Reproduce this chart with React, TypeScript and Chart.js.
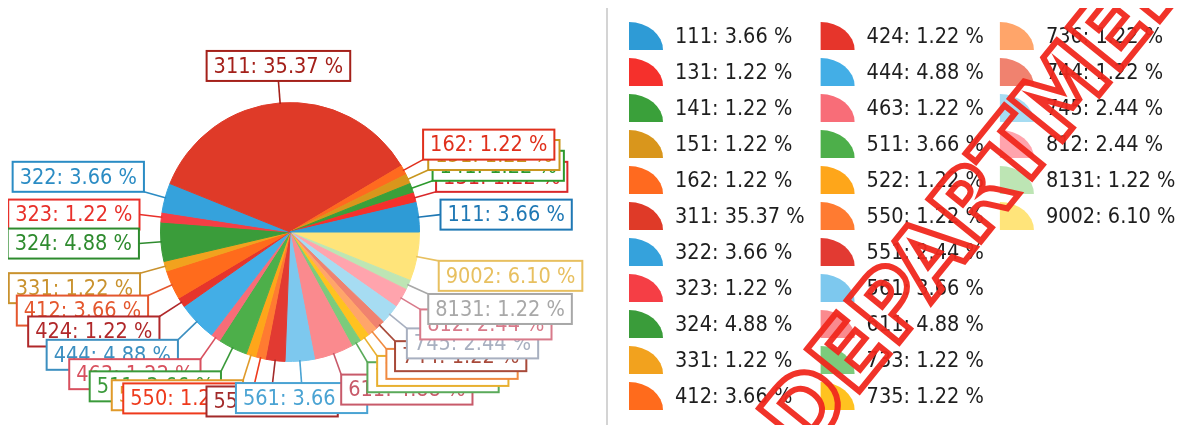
import React, { useEffect, useRef } from 'react';
import { Chart, registerables } from 'chart.js';

Chart.register(...registerables);

const categories = ['111', '131', '141', '151', '162', '311', '322', '323', '324', '331', '412', '424', '444', '463', '511', '522', '550', '551', '561', '611', '733', '735', '736', '744', '745', '812', '8131', '9002'];
const percentages = [3.66, 1.22, 1.22, 1.22, 1.22, 35.37, 3.66, 1.22, 4.88, 1.22, 3.66, 1.22, 4.88, 1.22, 3.66, 1.22, 1.22, 2.44, 3.66, 4.88, 1.22, 1.22, 1.22, 1.22, 2.44, 2.44, 1.22, 6.10];
const sliceColors = ['#2e9bd6', '#f5302c', '#3aa03a', '#d9961c', '#ff6a1f', '#df3a28', '#35a2dc', '#f53e45', '#3a9c3a', '#f2a21e', '#ff6b1c', '#e6352b', '#43aee6', '#f86d78', '#4daf4a', '#fea61a', '#ff7b31', '#e23a32', '#7dc8ee', '#fa8a8e', '#7ccb7c', '#ffc220', '#ffa56a', '#f0826f', '#a6dcf2', '#ffa4ad', '#bde5b4', '#ffe47a'];
const labelColors = ['#1f78b4', '#d9282a', '#2c9a2c', '#c8961e', '#e0301c', '#a4201a', '#2b8cc4', '#e8302a', '#2e8b2e', '#c9922e', '#e4572e', '#b0282a', '#3c8fc0', '#d8505e', '#3a9a3a', '#e09a2a', '#ee3a1c', '#a22a2a', '#4aa3d3', '#c85a6a', '#5aaa5a', '#e8b030', '#f08a40', '#a84a3a', '#a8b0c0', '#d87a8a', '#a8a8a8', '#e8c060'];
const stampText = 'DEPARTMENT';

const FONT = '"DejaVu Sans", sans-serif';
const SX = 0.88;

const labelText = (i: number) => `${categories[i]}: ${percentages[i].toFixed(2)} %`;

function drawText(ctx: CanvasRenderingContext2D, text: string, x: number, y: number, color: string) {
  ctx.save();
  ctx.translate(x, y);
  ctx.scale(SX, 1);
  ctx.fillStyle = color;
  ctx.fillText(text, 0, 0);
  ctx.restore();
}
const textW = (ctx: CanvasRenderingContext2D, t: string) => ctx.measureText(t).width * SX;

const outLabels = {
  id: 'outLabels',
  afterDatasetsDraw(chart: any) {
    const ctx: CanvasRenderingContext2D = chart.ctx;
    const meta = chart.getDatasetMeta(0);
    const n = categories.length;
    ctx.save();
    ctx.font = `22px ${FONT}`;
    ctx.textBaseline = 'middle';
    for (let i = 0; i < n; i++) {
      const arc = meta.data[n - 1 - i];
      const { x, y, startAngle, endAngle, outerRadius } = arc.getProps(['x', 'y', 'startAngle', 'endAngle', 'outerRadius'], true);
      const mid = (startAngle + endAngle) / 2;
      const c = Math.cos(mid);
      const s = Math.sin(mid);
      const R = outerRadius + 22 + (s > 0.15 && c < 0 ? 4 : 0);
      const ax = x + c * R;
      const ay = y + s * R;
      const text = labelText(i);
      const w = textW(ctx, text) + 14;
      const h = 30;
      const bx = c > 0.15 ? ax : c < -0.15 ? ax - w : ax - w / 2;
      const by = s > 0.15 ? ay : s < -0.15 ? ay - h : ay - h / 2;
      ctx.strokeStyle = labelColors[i];
      ctx.lineWidth = 1.6;
      ctx.beginPath();
      ctx.moveTo(x + c * (outerRadius - 1), y + s * (outerRadius - 1));
      ctx.lineTo(ax, ay);
      ctx.stroke();
      ctx.fillStyle = '#ffffff';
      ctx.fillRect(bx, by, w, h);
      ctx.lineWidth = 2;
      ctx.strokeRect(bx, by, w, h);
      drawText(ctx, text, bx + 7, by + h / 2 + 1, labelColors[i]);
    }
    ctx.restore();
  },
};

const legendPanel = {
  id: 'legendPanel',
  afterDraw(chart: any) {
    const ctx: CanvasRenderingContext2D = chart.ctx;
    ctx.save();
    ctx.strokeStyle = '#d4d4d4';
    ctx.lineWidth = 2;
    ctx.strokeRect(607, 1, 590, 429);
    ctx.font = `22px ${FONT}`;
    ctx.textBaseline = 'middle';
    const rows = 11;
    const iw = 34;
    const ih = 28;
    let colX = 629;
    const n = categories.length;
    for (let col = 0; col * rows < n; col++) {
      let maxW = 0;
      for (let r = 0; r < rows; r++) {
        const i = col * rows + r;
        if (i >= n) break;
        const iy = 22 + r * 36;
        ctx.fillStyle = sliceColors[i];
        ctx.beginPath();
        ctx.moveTo(colX, iy + ih);
        ctx.lineTo(colX, iy);
        ctx.ellipse(colX, iy + ih, iw, ih, 0, -Math.PI / 2, 0);
        ctx.closePath();
        ctx.fill();
        const t = labelText(i);
        maxW = Math.max(maxW, textW(ctx, t));
        drawText(ctx, t, colX + iw + 12, iy + ih / 2 + 1, '#1e1e1e');
      }
      colX += iw + 12 + maxW + 16;
    }
    // red stamp overlay
    const fs = 92;
    ctx.font = `bold ${fs}px ${FONT}`;
    ctx.textBaseline = 'alphabetic';
    ctx.strokeStyle = 'rgba(240,40,30,0.95)';
    ctx.lineWidth = 6;
    ctx.lineJoin = 'miter';
    ctx.translate(780, 436);
    ctx.rotate((-51 * Math.PI) / 180);
    ctx.strokeText(stampText, 0, fs * 0.729 / 2);
    ctx.restore();
  },
};

export default function App() {
  const ref = useRef<HTMLCanvasElement | null>(null);
  useEffect(() => {
    if (!ref.current) return;
    const n = categories.length;
    const revLabels = categories.map((_, k) => categories[n - 1 - k]);
    const revValues = percentages.map((_, k) => percentages[n - 1 - k]);
    const revColors = sliceColors.map((_, k) => sliceColors[n - 1 - k]);
    const chart = new Chart(ref.current, {
      type: 'pie',
      data: {
        labels: revLabels,
        datasets: [{ data: revValues, backgroundColor: revColors, borderColor: revColors, borderWidth: 1 }],
      },
      options: {
        responsive: false,
        animation: false,
        rotation: 90,
        layout: { padding: { left: 160, top: 102, right: 783, bottom: 71 } },
        plugins: { legend: { display: false }, tooltip: { enabled: false } },
      },
      plugins: [outLabels, legendPanel],
    } as any);
    return () => chart.destroy();
  }, []);
  return (
    <div style={{ width: 1203, height: 433, margin: -8, background: '#fff' }}>
      <canvas ref={ref} width={1203} height={433} style={{ display: 'block' }} />
    </div>
  );
}
